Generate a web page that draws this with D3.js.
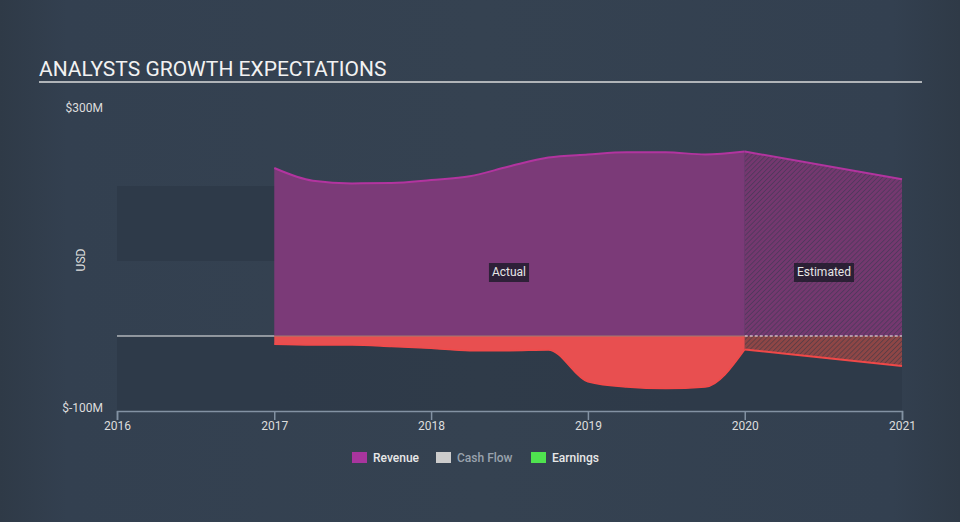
<!DOCTYPE html>
<html><head><meta charset="utf-8">
<script src="https://cdn.jsdelivr.net/npm/d3@7/dist/d3.min.js"></script>
<style>
html,body{margin:0;padding:0;background:#344150;}
svg{display:block;font-family:Roboto,"Noto Sans",sans-serif;}
</style></head>
<body>
<script>
// ---- data (USD millions) ----
const revenueDates = ["2017-01-01","2017-04-01","2017-07-01","2017-10-01","2018-01-01","2018-04-01","2018-07-01","2018-10-01","2019-01-01","2019-04-01","2019-07-01","2019-10-01","2020-01-01"];
const revenueValues = [224,207,203.5,204,208,213,226,238,242,245,245,242,246];
const earningsDates = ["2017-01-01","2017-04-01","2017-07-01","2017-10-01","2018-01-01","2018-04-01","2018-07-01","2018-10-01","2019-01-01","2019-04-01","2019-07-01","2019-10-01","2020-01-01"];
const earningsValues = [-11,-12,-12,-14,-16.5,-19.5,-19.5,-18.5,-61,-68,-70,-68,-18];
const estimateDates = ["2020-01-01","2021-01-01"];
const revenueEstimate = [246,209];
const earningsEstimate = [-18,-40];
const xTickYears = [2016,2017,2018,2019,2020,2021];
const yTickValues = [300,-100];
const yTickLabels = ["$300M","$-100M"];
const legendNames = ["Revenue","Cash Flow","Earnings"];
const legendColors = ["#a8359e","#cccccc","#4fe34f"];
const legendTextColors = ["#e8e8e8","#9aa3ad","#e8e8e8"];

const W = 960, H = 522;
const parse = d3.timeParse("%Y-%m-%d");
const svg = d3.select("body").append("svg").attr("width", W).attr("height", H);

// background gradient
const defs = svg.append("defs");
const bg = defs.append("linearGradient").attr("id","bg").attr("x1","0").attr("x2","1").attr("y1","0").attr("y2","0");
bg.append("stop").attr("offset","0").attr("stop-color","#2f3a47");
bg.append("stop").attr("offset","0.07").attr("stop-color","#334050");
bg.append("stop").attr("offset","0.5").attr("stop-color","#354251");
bg.append("stop").attr("offset","0.93").attr("stop-color","#334050");
bg.append("stop").attr("offset","1").attr("stop-color","#2f3a47");
svg.append("rect").attr("width",W).attr("height",H).attr("fill","url(#bg)");

function hatch(id, base, line){
  const p = defs.append("pattern").attr("id",id).attr("patternUnits","userSpaceOnUse")
    .attr("width",3.5).attr("height",3.5).attr("patternTransform","rotate(45)");
  p.append("rect").attr("width",3.5).attr("height",3.5).attr("fill",base);
  p.append("line").attr("x1",0).attr("y1",0).attr("x2",0).attr("y2",3.5).attr("stroke",line).attr("stroke-width",1.3);
}
hatch("hRev","#74386f","#453857");
hatch("hEarn","#8e4646","#4a3a45");

const x = d3.scaleTime().domain([parse("2016-01-01"), parse("2021-01-01")]).range([117, 902]);
const y = d3.scaleLinear().domain([-100, 300]).range([411, 111]);

// bands
const bands = [[100,200],[-100,0]];
svg.selectAll("rect.band").data(bands).enter().append("rect")
  .attr("x", x.range()[0]).attr("width", x.range()[1]-x.range()[0])
  .attr("y", d=>y(d[1])).attr("height", d=>y(d[0])-y(d[1]))
  .attr("fill","#2e3a48").attr("opacity",0.85);

// zero line (actual part)
svg.append("line").attr("x1",x.range()[0]).attr("x2",x(parse("2020-01-01")))
  .attr("y1",y(0)).attr("y2",y(0)).attr("stroke","#f0f0f0").attr("stroke-width",1);

const rev = revenueDates.map((d,i)=>({d:parse(d), v:revenueValues[i]}));
const earn = earningsDates.map((d,i)=>({d:parse(d), v:earningsValues[i]}));
const revE = estimateDates.map((d,i)=>({d:parse(d), v:revenueEstimate[i]}));
const earnE = estimateDates.map((d,i)=>({d:parse(d), v:earningsEstimate[i]}));

const area = d3.area().x(d=>x(d.d)).y0(y(0)).y1(d=>y(d.v)).curve(d3.curveMonotoneX);
const line = d3.line().x(d=>x(d.d)).y(d=>y(d.v)).curve(d3.curveMonotoneX);
const areaL = d3.area().x(d=>x(d.d)).y0(y(0)).y1(d=>y(d.v));
const lineL = d3.line().x(d=>x(d.d)).y(d=>y(d.v));

// estimates
svg.append("path").datum(revE).attr("d",areaL).attr("fill","url(#hRev)");
svg.append("path").datum(earnE).attr("d",areaL).attr("fill","url(#hEarn)");
svg.append("path").datum(revE).attr("d",lineL).attr("fill","none").attr("stroke","#b2349f").attr("stroke-width",2);
svg.append("path").datum(earnE).attr("d",lineL).attr("fill","none").attr("stroke","#f04848").attr("stroke-width",2);
svg.append("line").attr("x1",x(parse("2020-01-01"))).attr("x2",x.range()[1])
  .attr("y1",y(0)).attr("y2",y(0)).attr("stroke","#f4f4f4").attr("stroke-width",1).attr("stroke-dasharray","3,2");

// actuals
svg.append("path").datum(rev).attr("d",area).attr("fill","#7b3a78");
svg.append("path").datum(earn).attr("d",area).attr("fill","#e84f50");
svg.append("path").datum(rev).attr("d",line).attr("fill","none").attr("stroke","#b2349f").attr("stroke-width",2);
svg.append("path").datum(earn).attr("d",line).attr("fill","none").attr("stroke","#f24a4a").attr("stroke-width",1.5);
svg.append("line").attr("x1",x(parse("2017-01-01"))).attr("x2",x(parse("2020-01-01")))
  .attr("y1",y(0)).attr("y2",y(0)).attr("stroke","#a07a70").attr("stroke-width",1);

// x axis
const xAxis = d3.axisBottom(x)
  .tickValues(xTickYears.map(yr=>parse(yr+"-01-01")))
  .tickFormat(d3.timeFormat("%Y")).tickSizeOuter(0).tickSize(9);
const gx = svg.append("g").attr("transform",`translate(0,${y(-100)})`).call(xAxis);
gx.select(".domain").attr("stroke","#8392a3").attr("stroke-width",1.5);
gx.selectAll(".tick line").attr("stroke","#8392a3").attr("stroke-width",1.5);
gx.selectAll(".tick text").attr("fill","#dddddd").attr("font-size",12).attr("dy","0.71em").attr("y",10)
  .attr("font-family","Roboto,sans-serif");

// y labels
svg.selectAll("text.ylab").data(yTickValues).enter().append("text")
  .attr("x",103).attr("y",d=>y(d)-2).attr("text-anchor","end").attr("dominant-baseline","middle")
  .attr("fill","#dddddd").attr("font-size",12).text((d,i)=>yTickLabels[i]);
svg.append("text").attr("transform","translate(82,260) rotate(-90)").attr("text-anchor","middle")
  .attr("dominant-baseline","middle").attr("fill","#dddddd").attr("font-size",12).text("USD");

// title
svg.append("text").attr("x",39).attr("y",76).attr("fill","#f2f2f2").attr("font-size",21).text("ANALYSTS GROWTH EXPECTATIONS");
svg.append("line").attr("x1",39).attr("x2",922).attr("y1",82).attr("y2",82).attr("stroke","#b0b4b8").attr("stroke-width",2);

// area labels
function label(txt, cx, cy){
  const g = svg.append("g");
  const t = g.append("text").attr("x",cx).attr("y",cy).attr("text-anchor","middle").attr("dominant-baseline","middle")
    .attr("fill","#e6e6e6").attr("font-size",12).text(txt);
  const b = t.node().getBBox();
  g.insert("rect","text").attr("x",b.x-3).attr("y",cy-9.5).attr("width",b.width+6).attr("height",19)
    .attr("fill","#1c1a28").attr("opacity",0.8);
}
label("Actual", 509, 272.5);
label("Estimated", 824, 272.5);

// legend
const lg = svg.append("g");
const lx = [352, 436, 531];
legendNames.forEach((n,i)=>{
  lg.append("rect").attr("x",lx[i]).attr("y",452).attr("width",15).attr("height",11).attr("fill",legendColors[i]);
  lg.append("text").attr("x",lx[i]+21).attr("y",458.5).attr("dominant-baseline","middle")
    .attr("fill",legendTextColors[i]).attr("font-size",12).attr("font-weight",500).text(n);
});
</script>
</body></html>
